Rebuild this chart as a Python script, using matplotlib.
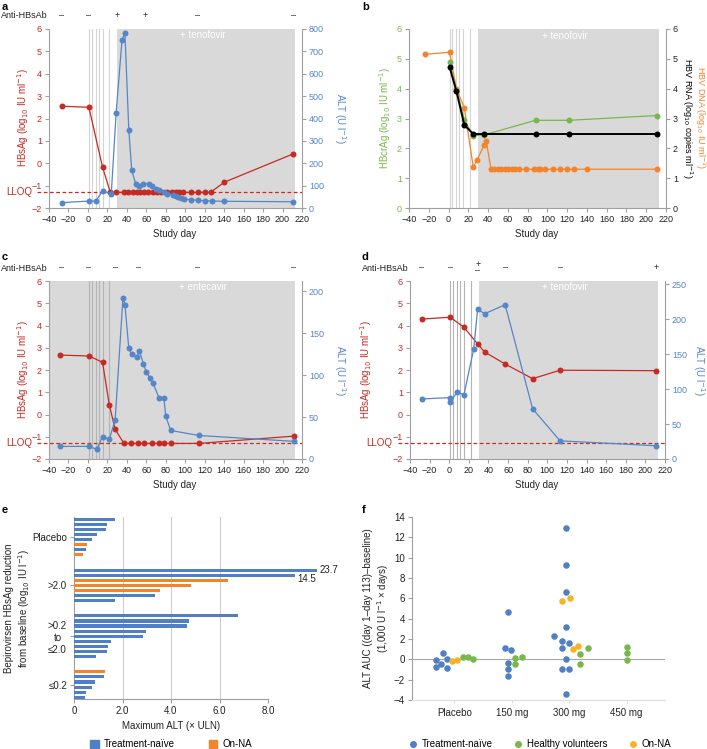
import numpy as np
import matplotlib
matplotlib.use('Agg')
import matplotlib.pyplot as plt
from matplotlib.transforms import blended_transform_factory
from matplotlib.lines import Line2D
from matplotlib.patches import Patch

plt.rcParams['font.family'] = ['Liberation Sans', 'DejaVu Sans']
plt.rcParams['font.size'] = 6.5
plt.rcParams['axes.unicode_minus'] = True

# ---------------- data ----------------
dose_days = [1, 4, 8, 11, 15, 22]
LLOQ = -1.3

# panel a
a_hbsag_day = [-27, 1, 15, 23, 29, 37, 41, 46, 50, 54, 58, 62, 67, 71, 75, 81, 86, 90, 94, 98, 106, 113, 120, 126, 140, 211]
a_hbsag_val = [2.55, 2.5, -0.17, -1.3, -1.3, -1.3, -1.3, -1.3, -1.3, -1.3, -1.3, -1.3, -1.3, -1.3, -1.3, -1.3,
               -1.3, -1.3, -1.3, -1.3, -1.3, -1.3, -1.3, -1.3, -0.85, 0.42]
a_alt_day = [-27, 1, 8, 15, 24, 29, 35, 38, 42, 45, 49, 52, 57, 63, 66, 70, 73, 78, 81, 87, 90, 93, 96, 99, 106, 113, 120, 127, 140, 211]
a_alt_val = [24, 31, 31, 75, 64, 426, 749, 783, 350, 169, 109, 97, 109, 109, 97, 85, 79, 70, 64, 58, 52, 48, 43, 39, 37, 34, 33, 31, 30, 28]
a_ab_day = [-27, 1, 30, 59, 113, 211]
a_ab_lab = ['–', '–', '+', '+', '–', '–']

# panel b
b_dna_day = [-24, 1, 8, 16, 25, 29, 36, 38, 43, 46, 50, 53, 57, 60, 64, 67, 71, 78, 86, 90, 93, 98, 106, 113, 120, 127, 140, 211]
b_dna_val = [5.15, 5.22, 4.0, 3.35, 1.37, 1.62, 2.11, 2.26, 1.3, 1.3, 1.3, 1.3, 1.3, 1.3, 1.3, 1.3, 1.3, 1.3,
             1.3, 1.3, 1.3, 1.3, 1.3, 1.3, 1.3, 1.3, 1.3, 1.3]
b_crag_day = [1, 8, 16, 25, 36, 88, 122, 211]
b_crag_val = [4.9, 3.97, 2.96, 2.42, 2.45, 2.94, 2.94, 3.1]
b_rna_day = [1, 8, 16, 25, 36, 88, 122, 211]
b_rna_val = [4.73, 3.91, 2.78, 2.48, 2.48, 2.48, 2.48, 2.48]

# panel c
c_hbsag_day = [-29, 1, 15, 22, 28, 37, 44, 51, 58, 66, 73, 78, 85, 114, 212]
c_hbsag_val = [2.67, 2.63, 2.35, 0.43, -0.67, -1.3, -1.3, -1.3, -1.3, -1.3, -1.3, -1.3, -1.3, -1.3, -0.97]
c_alt_day = [-29, 1, 9, 15, 22, 28, 36, 38, 42, 45, 50, 53, 57, 60, 64, 67, 73, 78, 80, 85, 114, 212]
c_alt_val = [15, 15, 11.5, 26.5, 23.5, 47, 192, 184, 132, 125, 121, 129, 113, 104, 96, 90, 73, 73, 51, 34, 28, 21]
c_ab_day = [-27, 1, 28, 52, 113, 211]
c_ab_lab = ['–', '–', '–', '–', '–', '–']

# panel d
d_hbsag_day = [-28, 1, 15, 29, 36, 57, 85, 113, 211]
d_hbsag_val = [4.29, 4.37, 3.92, 3.17, 2.81, 2.27, 1.61, 1.99, 1.97]
d_alt_day = [-28, 1, 1, 8, 15, 25, 29, 36, 57, 85, 113, 211]
d_alt_val = [86, 88, 81, 96, 92, 158, 215, 208, 221, 72, 26, 19]
d_ab_day = [-28, 1, 29, 57, 113, 211]
d_ab_lab = ['–', '–', '+\n–', '–', '–', '+']

# panel e (maximum ALT x ULN), TN = treatment-naive, NA = on-NA
e_group_labels = ['Placebo', '>2.0', '>0.2\nto\n≤2.0', '≤0.2']
e_placebo = [1.69, 1.35, 1.33, 0.96, 0.73, 0.55, 0.51, 0.37]
e_placebo_type = ['TN', 'TN', 'TN', 'TN', 'TN', 'NA', 'TN', 'NA']
e_gt2 = [23.7, 14.5, 6.35, 4.81, 3.54, 3.34, 1.69]
e_gt2_type = ['TN', 'TN', 'NA', 'NA', 'NA', 'TN', 'TN']
e_mid = [6.77, 4.75, 4.65, 2.95, 2.83, 1.52, 1.39, 1.36, 0.89]
e_mid_type = ['TN'] * 9
e_le = [1.28, 1.24, 0.87, 0.73, 0.49, 0.45]
e_le_type = ['NA', 'TN', 'TN', 'TN', 'TN', 'TN']

# panel f (ALT AUC)
f_categories = ['Placebo', '150 mg', '300 mg', '450 mg']
f_tn_cat = [0, 0, 0, 0, 0, 0, 1, 1, 1, 1, 1, 1, 2, 2, 2, 2, 2, 2, 2, 2, 2, 2, 2, 2]
f_tn_val = [-0.07, -0.79, -0.43, 0.62, 0.03, -0.82, 4.69, 1.11, 0.92, -0.33, -0.98, -1.64,
            12.94, 9.24, 6.65, 3.21, 2.3, 1.84, 1.57, 1.08, 0.03, -0.98, -0.98, -3.44]
f_tn_jit = [-0.32, -0.32, -0.23, -0.20, -0.13, -0.13, -0.06, -0.12, -0.02, -0.06, -0.06, -0.06,
            -0.06, -0.06, -0.06, -0.06, -0.26, -0.13, 0.0, -0.12, -0.06, -0.12, -0.01, -0.06]
f_hv_cat = [0, 0, 0, 1, 1, 1, 2, 2, 2, 3, 3, 3]
f_hv_val = [0.2, 0.26, 0.07, 0.13, 0.2, -0.46, 1.15, 0.49, -0.46, 1.18, 0.59, -0.07]
f_hv_jit = [0.15, 0.23, 0.33, 0.06, 0.17, 0.06, 0.32, 0.18, 0.18, 0.01, 0.01, 0.01]
f_na_cat = [0, 0, 2, 2, 2, 2]
f_na_val = [-0.2, -0.07, 5.73, 6.0, 1.02, 1.34]
f_na_jit = [-0.05, 0.05, -0.12, 0.01, 0.06, 0.16]

# ---------------- style ----------------
RED = '#c62a22'
BLUE = '#5486c8'
GREEN = '#78b84a'
ORANGE = '#f4842c'
YELLOW = '#f8b322'
BAR_BLUE = '#4f7fc4'
BAR_ORANGE = '#f4842c'
GREYBG = '#d9d9d9'
SPINE = '#a0a0a0'
TXT = '#222222'
FS = 6.5

W, H = 707, 749
fig = plt.figure(figsize=(W / 100, H / 100), dpi=100)


def axpx(l, t, r, b):
    return fig.add_axes([l / W, 1 - b / H, (r - l) / W, (b - t) / H])


def style_time(ax, axr, lc, rc):
    ax.spines['top'].set_visible(False)
    ax.spines['right'].set_visible(False)
    axr.spines['top'].set_visible(False)
    axr.spines['left'].set_visible(False)
    axr.spines['bottom'].set_visible(False)
    for s in ('left', 'bottom'):
        ax.spines[s].set_color(SPINE)
        ax.spines[s].set_linewidth(0.8)
    axr.spines['right'].set_color(SPINE)
    axr.spines['right'].set_linewidth(0.8)
    ax.tick_params(axis='x', colors=SPINE, labelcolor=TXT, length=3, width=0.8, labelsize=FS, pad=2)
    ax.tick_params(axis='y', colors=SPINE, labelcolor=lc, length=3, width=0.8, labelsize=FS, pad=2)
    axr.tick_params(axis='y', colors=SPINE, labelcolor=rc, length=3, width=0.8, labelsize=FS, pad=2)
    ax.set_xlim(-40, 220)
    ax.set_xticks(range(-40, 221, 20))


def dose_lines(ax, color):
    for d in dose_days:
        ax.axvline(d, color=color, lw=0.8, zorder=0.5)


def ab_row(ax, days, labs, yfrac, xlab_px):
    tr = blended_transform_factory(ax.transData, ax.transAxes)
    for d, l in zip(days, labs):
        ax.text(d, yfrac, l, transform=tr, ha='center', va='center', fontsize=FS, color=TXT,
                linespacing=0.7)
    ax.text(xlab_px[0] / W, 1 - xlab_px[1] / H, 'Anti-HBsAb', transform=fig.transFigure,
            ha='left', va='center', fontsize=FS, color=TXT)


def lloq(ax):
    tr = blended_transform_factory(ax.transAxes, ax.transData)
    ax.plot([-0.047, 1.0], [LLOQ, LLOQ], transform=tr, color=RED, lw=0.9, ls=(0, (3, 2)),
            clip_on=False, zorder=1)
    ax.text(-0.068, LLOQ, 'LLOQ', transform=tr, ha='right', va='center', color=RED, fontsize=FS + 0.5)


def series(ax, x, y, c, lw=0.9, ms=4.3, z=3):
    ax.plot(x, y, '-o', color=c, lw=lw, ms=ms, mec=c, mew=0, zorder=z, clip_on=False)


# ---------------- panel a ----------------
ax = axpx(49, 29, 302, 208)
axr = ax.twinx()
style_time(ax, axr, RED, BLUE)
ax.axvspan(30, 213, color=GREYBG, lw=0, zorder=0)
dose_lines(ax, '#d4d4d4')
ax.text(118, 5.75, '+ tenofovir', color='white', ha='center', va='center', fontsize=FS + 0.5)
ax.set_ylim(-2, 6)
ax.set_yticks(range(-2, 7))
axr.set_ylim(0, 800)
axr.set_yticks(range(0, 801, 100))
lloq(ax)
series(ax, a_hbsag_day, a_hbsag_val, RED)
series(axr, a_alt_day, a_alt_val, BLUE)
ab_row(ax, a_ab_day, a_ab_lab, 1.073, (1, 16))
fig.text(23 / W, 1 - 118 / H, 'HBsAg (log$_{10}$ IU ml$^{-1}$)', rotation=90, ha='center', va='center', color=RED, fontsize=FS + 0.5)
fig.text(340 / W, 1 - 118 / H, 'ALT (U l$^{-1}$)', rotation=270, ha='center', va='center', color=BLUE, fontsize=FS + 0.5)
fig.text(175 / W, 1 - 234 / H, 'Study day', ha='center', va='center', color=TXT, fontsize=FS + 0.5)

# ---------------- panel b ----------------
ax = axpx(409, 29, 666, 208)
axr = ax.twinx()
style_time(ax, axr, GREEN, TXT)
ax.axvspan(30, 213, color=GREYBG, lw=0, zorder=0)
dose_lines(ax, '#d4d4d4')
ax.text(118, 5.75, '+ tenofovir', color='white', ha='center', va='center', fontsize=FS + 0.5)
ax.set_ylim(0, 6)
ax.set_yticks(range(0, 7))
axr.set_ylim(0, 6)
axr.set_yticks(range(0, 7))
series(axr, b_dna_day, b_dna_val, ORANGE, z=2)
series(axr, b_crag_day, b_crag_val, GREEN, z=3)
series(axr, b_rna_day, b_rna_val, 'black', lw=1.4, z=4)
fig.text(385 / W, 1 - 118 / H, 'HBcrAg (log$_{10}$ IU ml$^{-1}$)', rotation=90, ha='center', va='center', color=GREEN, fontsize=FS + 0.5)
fig.text(700.5 / W, 1 - 118 / H, 'HBV DNA (log$_{10}$ IU ml$^{-1}$)', rotation=270, ha='center', va='center', color=ORANGE, fontsize=FS)
fig.text(687 / W, 1 - 118 / H, 'HBV RNA (log$_{10}$ copies ml$^{-1}$)', rotation=270, ha='center', va='center', color='black', fontsize=FS)
fig.text(537 / W, 1 - 234 / H, 'Study day', ha='center', va='center', color=TXT, fontsize=FS + 0.5)

# ---------------- panel c ----------------
ax = axpx(49, 281, 302, 459)
axr = ax.twinx()
style_time(ax, axr, RED, BLUE)
ax.axvspan(-40, 213, color=GREYBG, lw=0, zorder=0)
dose_lines(ax, '#b4b4b4')
ax.text(118, 5.75, '+ entecavir', color='white', ha='center', va='center', fontsize=FS + 0.5)
ax.set_ylim(-2, 6)
ax.set_yticks(range(-2, 7))
axr.set_ylim(0, 212)
axr.set_yticks(range(0, 201, 50))
lloq(ax)
series(ax, c_hbsag_day, c_hbsag_val, RED)
series(axr, c_alt_day, c_alt_val, BLUE)
ab_row(ax, c_ab_day, c_ab_lab, 1.075, (1, 268))
fig.text(23 / W, 1 - 370 / H, 'HBsAg (log$_{10}$ IU ml$^{-1}$)', rotation=90, ha='center', va='center', color=RED, fontsize=FS + 0.5)
fig.text(340 / W, 1 - 370 / H, 'ALT (U l$^{-1}$)', rotation=270, ha='center', va='center', color=BLUE, fontsize=FS + 0.5)
fig.text(175 / W, 1 - 485 / H, 'Study day', ha='center', va='center', color=TXT, fontsize=FS + 0.5)

# ---------------- panel d ----------------
ax = axpx(410, 281, 665, 459)
axr = ax.twinx()
style_time(ax, axr, RED, BLUE)
ax.axvspan(30, 213, color=GREYBG, lw=0, zorder=0)
dose_lines(ax, '#b4b4b4')
ax.text(118, 5.75, '+ tenofovir', color='white', ha='center', va='center', fontsize=FS + 0.5)
ax.set_ylim(-2, 6)
ax.set_yticks(range(-2, 7))
axr.set_ylim(0, 255)
axr.set_yticks(range(0, 251, 50))
lloq(ax)
series(ax, d_hbsag_day, d_hbsag_val, RED)
series(axr, d_alt_day, d_alt_val, BLUE)
ab_row(ax, d_ab_day, d_ab_lab, 1.075, (362, 268))
fig.text(366 / W, 1 - 370 / H, 'HBsAg (log$_{10}$ IU ml$^{-1}$)', rotation=90, ha='center', va='center', color=RED, fontsize=FS + 0.5)
fig.text(699 / W, 1 - 370 / H, 'ALT (U l$^{-1}$)', rotation=270, ha='center', va='center', color=BLUE, fontsize=FS + 0.5)
fig.text(537 / W, 1 - 485 / H, 'Study day', ha='center', va='center', color=TXT, fontsize=FS + 0.5)

# ---------------- panel e ----------------
axe = axpx(74, 516.7, 74 + 10.6 * 24.25, 699.3)
groups = [(e_placebo, e_placebo_type), (e_gt2, e_gt2_type), (e_mid, e_mid_type), (e_le, e_le_type)]


def disp_len(v):
    # values beyond the 8 x ULN axis end are drawn on a compressed scale
    return v if v <= 8 else 8 + 1.85 * np.log(v / 8.0)


slot = 0
tick_pos = []
for vals, typ in groups:
    ys = slot + np.arange(len(vals))
    for y, v, t in zip(ys, vals, typ):
        axe.barh(y, disp_len(v), height=0.62, color=BAR_BLUE if t == 'TN' else BAR_ORANGE, zorder=3)
        if v > 8:
            off = 0.0 if v > 20 else 0.75
            axe.text(disp_len(v) + 0.12, y + off, f'{v:.1f}', ha='left', va='center', fontsize=FS + 0.5, color=TXT)
    tick_pos.append(ys.mean())
    slot += len(vals) + 2
axe.set_ylim(35.4, -0.5)
axe.set_xlim(0, 10.6)
axe.set_xticks([0, 2, 4, 6, 8])
axe.set_xticklabels(['0', '2.0', '4.0', '6.0', '8.0'])
for g in (2, 4, 6):
    axe.axvline(g, color='#cccccc', lw=0.8, zorder=1)
axe.set_yticks(tick_pos)
axe.set_yticklabels(e_group_labels, multialignment='center')
for s in ('top', 'right'):
    axe.spines[s].set_visible(False)
axe.spines['bottom'].set_bounds(0, 8)
for s in ('left', 'bottom'):
    axe.spines[s].set_color(SPINE)
    axe.spines[s].set_linewidth(0.8)
axe.tick_params(colors=SPINE, labelcolor=TXT, length=3, width=0.8, labelsize=FS + 0.5, pad=2)
fig.text(18 / W, 1 - 608 / H, 'Bepirovirsen HBsAg reduction\nfrom baseline (log$_{10}$ IU l$^{-1}$)', rotation=90,
         ha='center', va='center', color=TXT, fontsize=FS + 0.5, linespacing=1.2)
fig.text(171 / W, 1 - 726 / H, 'Maximum ALT (× ULN)', ha='center', va='center', color=TXT, fontsize=FS + 0.5)
fig.legend(handles=[Patch(color=BAR_BLUE, label='Treatment-naïve'), Patch(color=BAR_ORANGE, label='On-NA')],
           loc='center', bbox_to_anchor=(171 / W, 1 - 744 / H), ncol=2, frameon=False, fontsize=FS + 0.5,
           handlelength=0.9, handleheight=0.9, columnspacing=3.5, handletextpad=0.5)

# ---------------- panel f ----------------
axf = axpx(412, 517, 665, 700)
axf.axhline(0, color='#a8a8a8', lw=0.8, zorder=1)
axf.scatter(np.array(f_tn_cat) + np.array(f_tn_jit), f_tn_val, s=22, color=BAR_BLUE, lw=0, zorder=3, clip_on=False)
axf.scatter(np.array(f_hv_cat) + np.array(f_hv_jit), f_hv_val, s=22, color=GREEN, lw=0, zorder=3, clip_on=False)
axf.scatter(np.array(f_na_cat) + np.array(f_na_jit), f_na_val, s=22, color=YELLOW, lw=0, zorder=3, clip_on=False)
axf.set_xlim(-0.74, 3.67)
axf.set_ylim(-4, 14)
axf.set_yticks(range(-4, 15, 2))
axf.set_xticks(range(len(f_categories)))
axf.set_xticklabels(f_categories)
axf.spines['top'].set_visible(False)
axf.spines['right'].set_visible(False)
axf.spines['left'].set_color(SPINE)
axf.spines['left'].set_linewidth(0.8)
axf.spines['bottom'].set_color('#dddddd')
axf.spines['bottom'].set_linewidth(0.8)
axf.tick_params(axis='y', colors=SPINE, labelcolor=TXT, length=3, width=0.8, labelsize=FS + 0.5, pad=2)
axf.tick_params(axis='x', colors='#dddddd', labelcolor=TXT, length=2, width=0.8, labelsize=FS + 0.5, pad=4)
fig.text(377 / W, 1 - 608 / H, 'ALT AUC ((day 1–day 113)–baseline)\n(1,000 U l$^{-1}$ × days)', rotation=90,
         ha='center', va='center', color=TXT, fontsize=FS + 0.5, linespacing=1.2)
mk = dict(marker='o', lw=0, markersize=5, mew=0)
fig.legend(handles=[Line2D([], [], color=BAR_BLUE, label='Treatment-naïve', **mk),
                    Line2D([], [], color=GREEN, label='Healthy volunteers', **mk),
                    Line2D([], [], color=YELLOW, label='On-NA', **mk)],
           loc='center', bbox_to_anchor=(540 / W, 1 - 744 / H), ncol=3, frameon=False, fontsize=FS + 0.5,
           handlelength=0.8, columnspacing=2.2, handletextpad=0.5)

# panel letters
for lab, x, y in [('a', 2, 7), ('b', 362, 7), ('c', 2, 257), ('d', 362, 257), ('e', 2, 510), ('f', 362, 510)]:
    fig.text(x / W, 1 - y / H, lab, fontweight='bold', fontsize=8, ha='left', va='center', color='black')

fig.savefig('out.png', dpi=100)
